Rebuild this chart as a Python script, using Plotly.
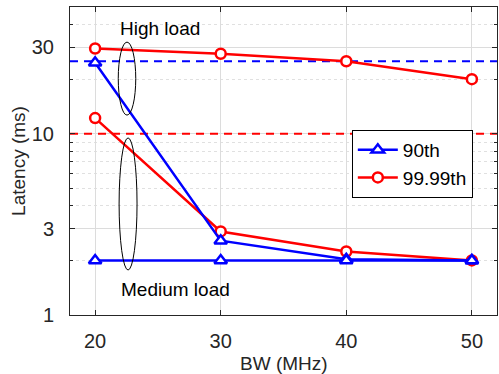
import math
import plotly.graph_objects as go

bw = [20, 30, 40, 50]
p90_high = [24.6, 2.57, 2.03, 2.0]
p9999_high = [29.5, 27.6, 25.1, 20.0]
p90_med = [2.0, 2.0, 2.0, 2.0]
p9999_med = [12.2, 2.89, 2.24, 2.0]
thr_90 = 25.1
thr_9999 = 10.0
x_range = [18, 52]
y_ticks = [1, 3, 10, 30]
y_minor = [2, 4, 5, 6, 7, 8, 9, 20, 40, 50]

BLUE = "#0000ff"
RED = "#ff0000"
FONT = "Liberation Sans, Arial, sans-serif"

fig = go.Figure()

# threshold dashed lines
fig.add_trace(go.Scatter(x=x_range, y=[thr_90, thr_90], mode="lines",
                         line=dict(color=BLUE, width=2, dash="8px,6px"), showlegend=False, hoverinfo="skip"))
fig.add_trace(go.Scatter(x=x_range, y=[thr_9999, thr_9999], mode="lines",
                         line=dict(color=RED, width=2, dash="8px,6px"), showlegend=False, hoverinfo="skip"))

circ = dict(symbol="circle", size=10, color="white", line=dict(color=RED, width=2.5))
tri = dict(symbol="triangle-up", size=11, color="white", line=dict(color=BLUE, width=2.5))

fig.add_trace(go.Scatter(x=bw, y=p9999_high, mode="lines+markers", name="99.99th",
                         line=dict(color=RED, width=2.5), marker=circ, showlegend=True, legendrank=2))
fig.add_trace(go.Scatter(x=bw, y=p9999_med, mode="lines+markers", name="99.99th",
                         line=dict(color=RED, width=2.5), marker=circ, showlegend=False))
fig.add_trace(go.Scatter(x=bw, y=p90_high, mode="lines+markers", name="90th",
                         line=dict(color=BLUE, width=2.5), marker=tri, showlegend=True, legendrank=1))
fig.add_trace(go.Scatter(x=bw, y=p90_med, mode="lines+markers", name="90th",
                         line=dict(color=BLUE, width=2.5), marker=tri, showlegend=False))

# ellipses (paper coords)
fig.add_shape(type="circle", xref="paper", yref="paper", x0=0.113, x1=0.154, y0=0.649, y1=0.886,
              line=dict(color="black", width=1))
fig.add_shape(type="circle", xref="paper", yref="paper", x0=0.115, x1=0.157, y0=0.146, y1=0.575,
              line=dict(color="black", width=1))

fig.add_annotation(text="High load", xref="paper", yref="paper", x=0.211, y=0.929,
                   xanchor="center", yanchor="middle",
                   showarrow=False, font=dict(size=19, color="black", family=FONT))
fig.add_annotation(text="Medium load", xref="paper", yref="paper", x=0.246, y=0.084,
                   xanchor="center", yanchor="middle",
                   showarrow=False, font=dict(size=19, color="black", family=FONT))

# axis titles
fig.add_annotation(text="BW (MHz)", xref="paper", yref="paper", x=0.5, y=-0.157,
                   xanchor="center", yanchor="middle",
                   showarrow=False, font=dict(size=19, color="#262626", family=FONT))
fig.add_annotation(text="Latency (ms)", xref="paper", yref="paper", x=-0.122, y=0.5,
                   xanchor="center", yanchor="middle",
                   textangle=-90, showarrow=False, font=dict(size=19, color="#262626", family=FONT))

axis_common = dict(showline=True, linecolor="#262626", linewidth=1, mirror="allticks",
                   ticks="inside", ticklen=5, tickcolor="#262626",
                   gridcolor="#dcdcdc", gridwidth=1, zeroline=False, automargin=False,
                   tickfont=dict(size=20, color="#262626", family=FONT))

fig.update_xaxes(range=x_range, tickvals=bw, ticklabelstandoff=8, **axis_common)
fig.update_yaxes(type="log", range=[0, math.log10(50)], tickvals=y_ticks, ticktext=[str(v) for v in y_ticks],
                 minor=dict(tickvals=y_minor, ticks="inside", ticklen=3, tickcolor="#262626",
                            showgrid=True, gridcolor="#e0e0e0", griddash="dot", gridwidth=1),
                 ticklabelstandoff=11,
                 **axis_common)

fig.update_layout(
    width=499, height=374,
    margin=dict(l=70, r=2, t=7, b=59),
    paper_bgcolor="white", plot_bgcolor="white",
    font=dict(family=FONT, color="#262626"),
    legend=dict(x=0.66, y=0.601, xanchor="left", yanchor="top",
                bordercolor="black", borderwidth=1, bgcolor="white",
                font=dict(size=19, color="black", family=FONT),
                tracegroupgap=0, itemwidth=40),
    showlegend=True,
)

fig.write_html("out.html", config={"displayModeBar": False},
               post_script="document.body.style.margin='0';")
